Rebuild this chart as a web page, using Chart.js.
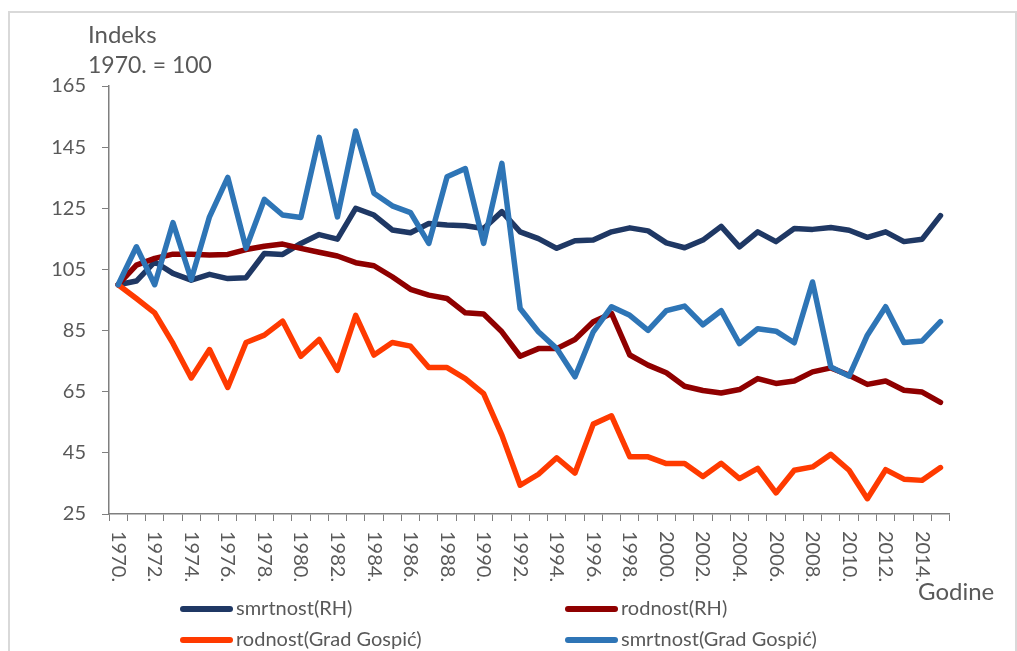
<!DOCTYPE html>
<html>
<head>
<meta charset="utf-8">
<script src="https://cdn.jsdelivr.net/npm/chart.js@4.4.1/dist/chart.umd.min.js"></script>
<style>
  html, body { margin: 0; padding: 0; background: #ffffff; }
  #wrap { position: relative; width: 1017px; height: 651px; overflow: hidden; }
  #frame { position: absolute; left: 8px; top: 11px; width: 1005px; height: 700px; border: 2px solid #d9d9d9; pointer-events: none; }
  canvas { position: absolute; left: 0; top: 0; }
</style>
</head>
<body>
<div id="wrap">
  <canvas id="c" width="1017" height="651"></canvas>
  <div id="frame"></div>
</div>
<script>
const years = ['1970.','1971.','1972.','1973.','1974.','1975.','1976.','1977.','1978.','1979.',
  '1980.','1981.','1982.','1983.','1984.','1985.','1986.','1987.','1988.','1989.',
  '1990.','1991.','1992.','1993.','1994.','1995.','1996.','1997.','1998.','1999.',
  '2000.','2001.','2002.','2003.','2004.','2005.','2006.','2007.','2008.','2009.',
  '2010.','2011.','2012.','2013.','2014.','2015.'];

const smrtnostRH = [100, 101.2, 107.5, 103.7, 101.5, 103.4, 102, 102.3, 110.2, 109.9,
  113.5, 116.4, 114.9, 125, 122.8, 117.9, 117, 120, 119.5, 119.3,
  118.4, 123.9, 117.3, 115.1, 111.9, 114.4, 114.6, 117.3, 118.6, 117.6,
  113.7, 112.1, 114.6, 119.1, 112.4, 117.3, 114.1, 118.4, 118.1, 118.7,
  117.8, 115.5, 117.3, 114.1, 114.9, 122.6];

const rodnostRH = [100, 106.4, 108.6, 110, 110, 109.7, 109.9, 111.5, 112.6, 113.3,
  111.9, 110.6, 109.4, 107.2, 106.2, 102.6, 98.5, 96.6, 95.5, 90.8,
  90.4, 84.6, 76.6, 79.1, 79.1, 82.1, 87.9, 90.6, 77.0, 73.7,
  71.2, 66.8, 65.4, 64.6, 65.7, 69.3, 67.7, 68.5, 71.5, 72.8,
  70.4, 67.4, 68.5, 65.5, 64.9, 61.5];

const rodnostGospic = [100, 95.5, 90.8, 80.8, 69.5, 78.8, 66.4, 81.1, 83.5, 88.1,
  76.6, 82.1, 72.0, 90.0, 77.0, 81.1, 79.9, 72.9, 72.9, 69.3,
  64.4, 50.8, 34.4, 38.0, 43.4, 38.4, 54.4, 57.1, 43.7, 43.7,
  41.5, 41.5, 37.3, 41.6, 36.6, 39.9, 31.9, 39.3, 40.4, 44.5,
  39.3, 30.0, 39.5, 36.4, 36.0, 40.2];

const smrtnostGospic = [100, 112.4, 100, 120.3, 101.7, 122.2, 135.1, 111.9, 127.9, 122.8,
  122, 148.2, 122.2, 150.3, 129.9, 125.8, 123.6, 113.5, 135.3, 138.0,
  113.5, 139.7, 92.2, 84.6, 79.1, 69.9, 84.6, 92.8, 90.0, 85.1,
  91.5, 93.0, 86.9, 91.5, 80.7, 85.6, 84.8, 81.0, 100.9, 73.1,
  70.1, 83.5, 92.8, 81.1, 81.6, 87.9];

const seriesNames = ['smrtnost(RH)', 'rodnost(RH)', 'rodnost(Grad Gospić)', 'smrtnost(Grad Gospić)'];
const yAxisTitle = ['Indeks', '1970. = 100'];
const xAxisTitle = 'Godine';
const yMin = 25, yMax = 165, yStep = 20;

const TEXT = '#595959';
const AXIS = '#7f7f7f';
const FONT = 'Lato, "Open Sans", sans-serif';

function ds(label, data, color, order) {
  return {
    label, data, borderColor: color, backgroundColor: color,
    borderWidth: 5.5, pointRadius: 0, pointHoverRadius: 0, tension: 0,
    borderJoinStyle: 'round', borderCapStyle: 'round', fill: false, order
  };
}

const extras = {
  id: 'extras',
  afterDraw(chart) {
    const ctx = chart.ctx;
    const xs = chart.scales.x;
    ctx.save();
    ctx.fillStyle = TEXT;
    // x tick labels, rotated 90deg clockwise, every second year
    ctx.font = '20px ' + FONT;
    ctx.textAlign = 'left';
    ctx.textBaseline = 'middle';
    chart.data.labels.forEach((lab, i) => {
      if (i % 2 !== 0) return;
      const x = xs.getPixelForValue(i);
      ctx.save();
      ctx.translate(x, 531);
      ctx.rotate(Math.PI / 2);
      ctx.fillText(lab, 0, 0);
      ctx.restore();
    });
    // axis titles
    ctx.font = '24px ' + FONT;
    ctx.textBaseline = 'middle';
    ctx.fillText(yAxisTitle[0], 88, 35);
    ctx.font = '23px ' + FONT;
    ctx.fillText(yAxisTitle[1], 88, 66);
    ctx.font = '24px ' + FONT;
    ctx.fillText(xAxisTitle, 918, 592);
    // legend (2 columns)
    const pos = [[180, 609], [565, 609], [180, 640], [565, 640]];
    ctx.font = '20px ' + FONT;
    chart.data.datasets.forEach((d, i) => {
      const [lx, ly] = pos[i];
      ctx.strokeStyle = d.borderColor;
      ctx.lineWidth = 6;
      ctx.lineCap = 'round';
      ctx.beginPath();
      ctx.moveTo(lx + 3, ly);
      ctx.lineTo(lx + 50, ly);
      ctx.stroke();
      ctx.fillStyle = TEXT;
      ctx.fillText(d.label, lx + 56, ly);
    });
    ctx.restore();
  }
};

new Chart(document.getElementById('c'), {
  type: 'line',
  data: {
    labels: years,
    datasets: [
      ds(seriesNames[0], smrtnostRH, '#1f3864', 3),
      ds(seriesNames[1], rodnostRH, '#8f0000', 2),
      ds(seriesNames[2], rodnostGospic, '#ff3a00', 1),
      ds(seriesNames[3], smrtnostGospic, '#2e75b6', 0)
    ]
  },
  options: {
    responsive: false,
    animation: false,
    events: [],
    layout: { padding: { left: 0, top: 86, right: 67.4, bottom: 0 } },
    plugins: { legend: { display: false }, tooltip: { enabled: false }, title: { display: false } },
    scales: {
      x: {
        type: 'category',
        offset: true,
        grid: { display: true, drawOnChartArea: false, drawTicks: true, tickLength: 7, offset: true, color: AXIS, lineWidth: 1 },
        border: { display: true, color: AXIS, width: 1.5 },
        ticks: { display: false, autoSkip: false },
        afterFit(scale) { scale.height = 137; }
      },
      y: {
        min: yMin, max: yMax,
        grid: { display: true, drawOnChartArea: false, drawTicks: true, tickLength: 7, color: AXIS, lineWidth: 1 },
        border: { display: true, color: AXIS, width: 1.5 },
        ticks: { stepSize: yStep, color: TEXT, padding: 16, font: { family: FONT, size: 20 } },
        afterFit(scale) { scale.width = 109; }
      }
    }
  },
  plugins: [extras]
});
</script>
</body>
</html>
